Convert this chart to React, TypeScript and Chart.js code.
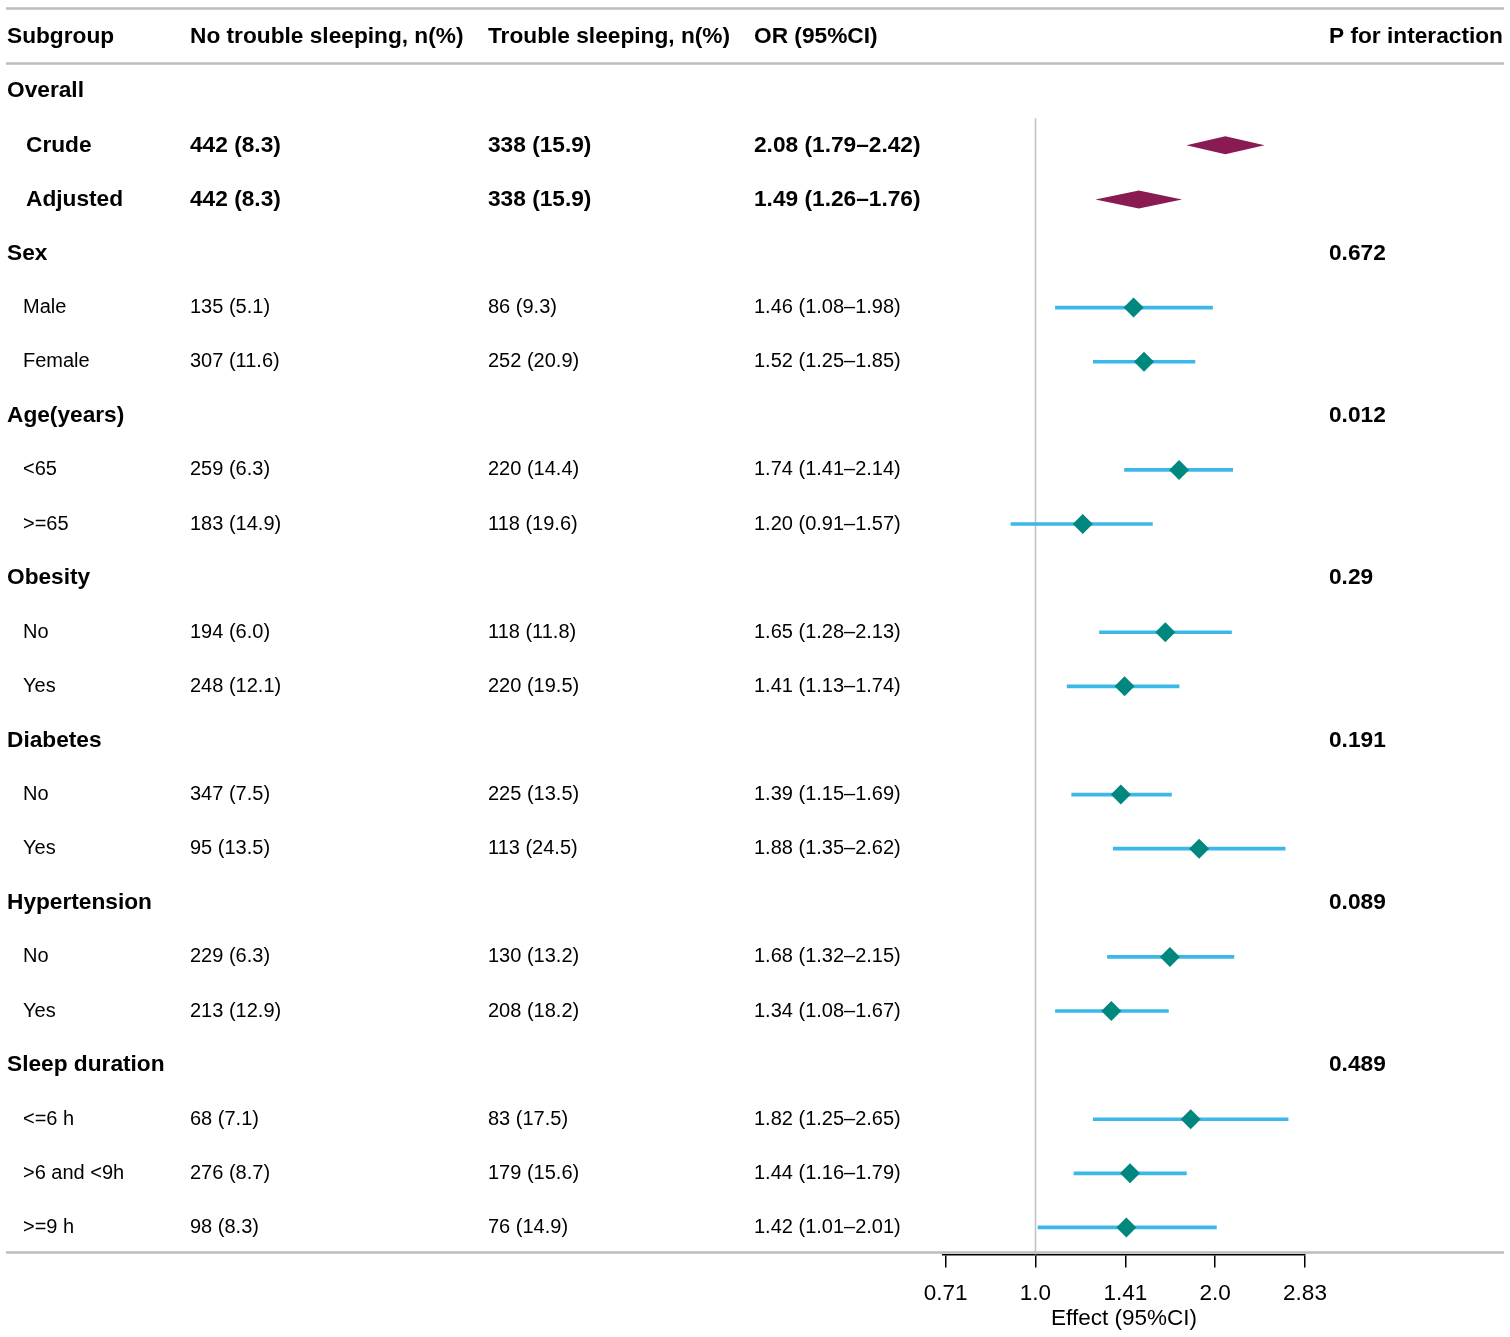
import React, { useEffect, useRef } from "react";
import { Chart, registerables } from "chart.js";

Chart.register(...registerables);

const FONT = '"Liberation Sans", Arial, Helvetica, sans-serif';

const headers = ["Subgroup", "No trouble sleeping, n(%)", "Trouble sleeping, n(%)", "OR (95%CI)", "P for interaction"];

const subgroups = [
  "Overall", "Crude", "Adjusted",
  "Sex", "Male", "Female",
  "Age(years)", "<65", ">=65",
  "Obesity", "No", "Yes",
  "Diabetes", "No", "Yes",
  "Hypertension", "No", "Yes",
  "Sleep duration", "<=6 h", ">6 and <9h", ">=9 h",
];

// g = group header, s = summary (overall), i = subgroup item
const rowKinds = [
  "g", "s", "s",
  "g", "i", "i",
  "g", "i", "i",
  "g", "i", "i",
  "g", "i", "i",
  "g", "i", "i",
  "g", "i", "i", "i",
];

const noTrouble = [
  "", "442 (8.3)", "442 (8.3)",
  "", "135 (5.1)", "307 (11.6)",
  "", "259 (6.3)", "183 (14.9)",
  "", "194 (6.0)", "248 (12.1)",
  "", "347 (7.5)", "95 (13.5)",
  "", "229 (6.3)", "213 (12.9)",
  "", "68 (7.1)", "276 (8.7)", "98 (8.3)",
];

const trouble = [
  "", "338 (15.9)", "338 (15.9)",
  "", "86 (9.3)", "252 (20.9)",
  "", "220 (14.4)", "118 (19.6)",
  "", "118 (11.8)", "220 (19.5)",
  "", "225 (13.5)", "113 (24.5)",
  "", "130 (13.2)", "208 (18.2)",
  "", "83 (17.5)", "179 (15.6)", "76 (14.9)",
];

const orEst = [
  null, 2.08, 1.49,
  null, 1.46, 1.52,
  null, 1.74, 1.20,
  null, 1.65, 1.41,
  null, 1.39, 1.88,
  null, 1.68, 1.34,
  null, 1.82, 1.44, 1.42,
];
const orLow = [
  null, 1.79, 1.26,
  null, 1.08, 1.25,
  null, 1.41, 0.91,
  null, 1.28, 1.13,
  null, 1.15, 1.35,
  null, 1.32, 1.08,
  null, 1.25, 1.16, 1.01,
];
const orHigh = [
  null, 2.42, 1.76,
  null, 1.98, 1.85,
  null, 2.14, 1.57,
  null, 2.13, 1.74,
  null, 1.69, 2.62,
  null, 2.15, 1.67,
  null, 2.65, 1.79, 2.01,
];

const pInteraction = [
  "", "", "",
  "0.672", "", "",
  "0.012", "", "",
  "0.29", "", "",
  "0.191", "", "",
  "0.089", "", "",
  "0.489", "", "", "",
];

const tickValues = [0.7071, 1, 1.4142, 2, 2.8284];
const tickLabels = ["0.71", "1.0", "1.41", "2.0", "2.83"];

const fmt = (v: number) => v.toFixed(2);

export default function App() {
  const ref = useRef<HTMLCanvasElement | null>(null);

  useEffect(() => {
    const canvas = ref.current;
    if (!canvas) return;

    const rowIdx = (i: number) => i + 1; // header row is 0

    const ciData: any[] = [];
    const ptData: any[] = [];
    subgroups.forEach((_, i) => {
      if (rowKinds[i] === "i" && orEst[i] != null) {
        ciData.push({ x: [orLow[i], orHigh[i]], y: rowIdx(i) });
        ptData.push({ x: orEst[i], y: rowIdx(i) });
      }
    });

    const tablePlugin = {
      id: "tablePlugin",
      beforeDatasetsDraw(chart: any) {
        const { ctx, scales } = chart;
        const xs = scales.x;
        const ys = scales.y;
        ctx.save();
        const x1 = Math.round(xs.getPixelForValue(1)) + 0.5;
        ctx.strokeStyle = "#c0c0c0";
        ctx.lineWidth = 1.5;
        ctx.beginPath();
        ctx.moveTo(x1, ys.getPixelForValue(1.5));
        ctx.lineTo(x1, ys.getPixelForValue(subgroups.length + 0.5));
        ctx.stroke();
        ctx.restore();
      },
      afterDatasetsDraw(chart: any) {
        const { ctx, scales } = chart;
        const xs = scales.x;
        const ys = scales.y;
        ctx.save();
        // summary diamonds
        ctx.fillStyle = "#8a1a52";
        subgroups.forEach((_, i) => {
          if (rowKinds[i] !== "s") return;
          const y = ys.getPixelForValue(rowIdx(i));
          const l = xs.getPixelForValue(orLow[i]);
          const h = xs.getPixelForValue(orHigh[i]);
          const e = xs.getPixelForValue(orEst[i]);
          ctx.beginPath();
          ctx.moveTo(l, y);
          ctx.lineTo(e, y - 9);
          ctx.lineTo(h, y);
          ctx.lineTo(e, y + 9);
          ctx.closePath();
          ctx.fill();
        });

        // horizontal rules
        ctx.strokeStyle = "#bdbdbd";
        ctx.lineWidth = 2.5;
        [-0.5, 0.5, subgroups.length + 0.5].forEach((r, k) => {
          const y = ys.getPixelForValue(r) + (k === 0 ? -1.5 : k === 2 ? -2 : -0.5);
          ctx.beginPath();
          ctx.moveTo(6, y);
          ctx.lineTo(1504, y);
          ctx.stroke();
        });

        // table text
        ctx.fillStyle = "#000";
        ctx.textBaseline = "middle";
        ctx.textAlign = "left";
        const bold = `bold 22.7px ${FONT}`;
        const reg = `20px ${FONT}`;
        const colX = [7, 190, 488, 754, 1329];
        const yh = ys.getPixelForValue(0);
        ctx.font = bold;
        headers.forEach((h, k) => ctx.fillText(h, colX[k], yh));

        subgroups.forEach((name, i) => {
          const y = ys.getPixelForValue(rowIdx(i));
          const kind = rowKinds[i];
          if (kind === "g") {
            ctx.font = bold;
            ctx.fillText(name, 7, y);
            if (pInteraction[i]) ctx.fillText(pInteraction[i], colX[4], y);
            return;
          }
          ctx.font = kind === "s" ? bold : reg;
          ctx.fillText(name, kind === "s" ? 26 : 23, y);
          ctx.fillText(noTrouble[i], colX[1], y);
          ctx.fillText(trouble[i], colX[2], y);
          if (orEst[i] != null) {
            ctx.fillText(`${fmt(orEst[i] as number)} (${fmt(orLow[i] as number)}\u2013${fmt(orHigh[i] as number)})`, colX[3], y);
          }
          if (pInteraction[i]) ctx.fillText(pInteraction[i], colX[4], y);
        });
        ctx.restore();
      },
    };

    const chart = new Chart(canvas, {
      type: "scatter",
      data: {
        datasets: [
          {
            type: "bar",
            indexAxis: "y",
            data: ciData,
            backgroundColor: "#3bb8e8",
            borderWidth: 0,
            barThickness: 3,
            order: 2,
          } as any,
          {
            type: "scatter",
            data: ptData,
            pointStyle: "rectRot",
            pointRadius: 10,
            pointHoverRadius: 10,
            backgroundColor: "#00877e",
            borderColor: "#00877e",
            borderWidth: 0,
            order: 1,
          } as any,
        ],
      },
      plugins: [tablePlugin],
      options: {
        animation: false,
        responsive: false,
        devicePixelRatio: 1,
        events: [],
        layout: { padding: { left: 943, right: 205, top: 7, bottom: 7 } },
        plugins: { legend: { display: false }, tooltip: { enabled: false } },
        scales: {
          x: {
            type: "logarithmic",
            offset: false,
            min: tickValues[0],
            max: tickValues[tickValues.length - 1],
            afterBuildTicks: (scale: any) => {
              scale.ticks = tickValues.map((v) => ({ value: v }));
            },
            ticks: {
              autoSkip: false,
              maxRotation: 0,
              color: "#000",
              padding: 13,
              font: { family: FONT, size: 22.5 },
              callback: (_v: any, idx: number) => tickLabels[idx],
            },
            grid: {
              display: true,
              offset: false,
              drawOnChartArea: false,
              drawTicks: true,
              tickLength: 13,
              color: "#000",
              lineWidth: 1.5,
            },
            border: { display: true, color: "#000", width: 1.5 },
            title: {
              display: true,
              text: "Effect (95%CI)",
              color: "#000",
              font: { family: FONT, size: 22.5, lineHeight: 1.0 },
              padding: { top: -13, bottom: 0 },
            },
          },
          y: {
            type: "linear",
            display: false,
            offset: false,
            grid: { offset: false },
            reverse: true,
            min: -0.5,
            max: subgroups.length + 0.5,
          },
        },
      } as any,
    });

    return () => chart.destroy();
  }, []);

  return (
    <canvas
      ref={ref}
      width={1510}
      height={1337}
      style={{ position: "absolute", left: 0, top: 0, width: 1510, height: 1337, background: "#fff" }}
    />
  );
}
